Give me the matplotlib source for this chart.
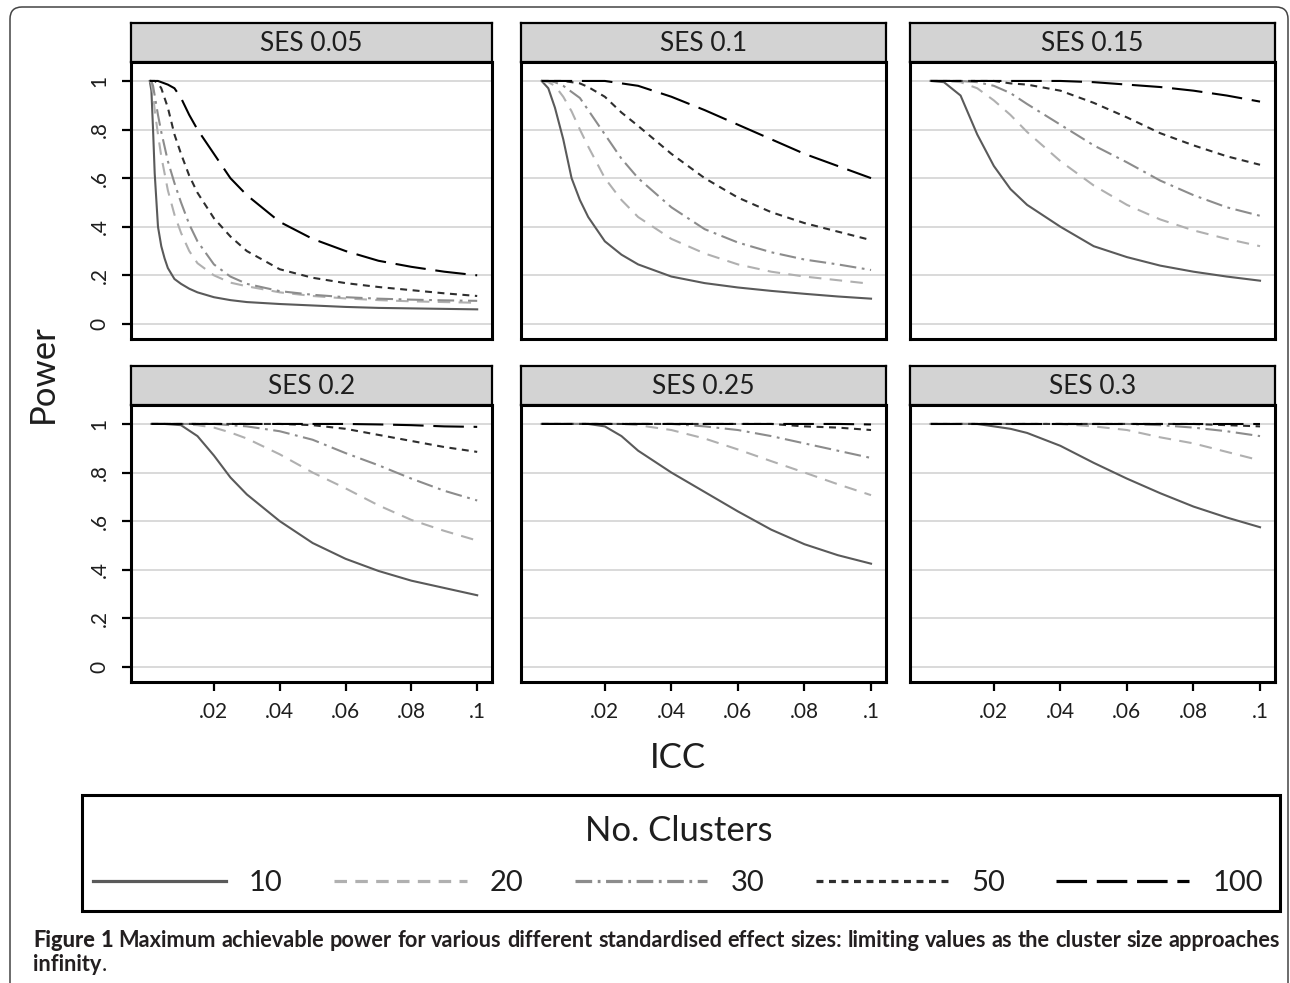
import matplotlib
matplotlib.use("Agg")
import matplotlib.pyplot as plt
from matplotlib.patches import Rectangle, FancyBboxPatch
from matplotlib.lines import Line2D

plt.rcParams["font.family"] = ["Lato", "DejaVu Sans"]
plt.rcParams["lines.scale_dashes"] = False

# ---- data ----
panel_titles = ["SES 0.05", "SES 0.1", "SES 0.15", "SES 0.2", "SES 0.25", "SES 0.3"]
clusters = [10, 20, 30, 50, 100]

icc_05 = [0.0005, 0.001, 0.0015, 0.002, 0.003, 0.004, 0.005, 0.006, 0.008, 0.01, 0.0125,
          0.015, 0.02, 0.025, 0.03, 0.04, 0.05, 0.06, 0.07, 0.08, 0.09, 0.1]
pw_005 = [
    [1.0, 0.96, 0.80, 0.62, 0.40, 0.32, 0.27, 0.23, 0.185, 0.165, 0.145, 0.13, 0.11, 0.098, 0.09, 0.082, 0.076, 0.07, 0.066, 0.064, 0.062, 0.06],
    [1.0, 0.99, 0.95, 0.88, 0.78, 0.69, 0.62, 0.55, 0.45, 0.375, 0.30, 0.25, 0.20, 0.17, 0.155, 0.13, 0.115, 0.105, 0.098, 0.093, 0.09, 0.087],
    [1.0, 1.0, 0.98, 0.94, 0.86, 0.79, 0.73, 0.67, 0.58, 0.50, 0.41, 0.34, 0.245, 0.195, 0.165, 0.135, 0.12, 0.11, 0.104, 0.10, 0.097, 0.095],
    [1.0, 1.0, 1.0, 1.0, 0.99, 0.97, 0.93, 0.89, 0.78, 0.70, 0.61, 0.54, 0.435, 0.36, 0.30, 0.225, 0.19, 0.168, 0.152, 0.139, 0.126, 0.115],
    [1.0, 1.0, 1.0, 1.0, 1.0, 0.995, 0.99, 0.985, 0.97, 0.93, 0.86, 0.80, 0.70, 0.60, 0.53, 0.42, 0.35, 0.30, 0.26, 0.235, 0.215, 0.20],
]

icc_10 = [0.001, 0.003, 0.005, 0.0075, 0.01, 0.0125, 0.015, 0.02, 0.025, 0.03, 0.04,
          0.05, 0.06, 0.07, 0.08, 0.09, 0.1]
pw_010 = [
    [1.0, 0.97, 0.89, 0.76, 0.60, 0.51, 0.44, 0.34, 0.285, 0.245, 0.195, 0.168, 0.15, 0.136, 0.124, 0.113, 0.104],
    [1.0, 0.995, 0.98, 0.935, 0.875, 0.80, 0.73, 0.60, 0.51, 0.44, 0.35, 0.29, 0.245, 0.215, 0.195, 0.18, 0.165],
    [1.0, 1.0, 0.995, 0.98, 0.955, 0.93, 0.88, 0.78, 0.68, 0.60, 0.48, 0.39, 0.335, 0.295, 0.265, 0.245, 0.222],
    [1.0, 1.0, 1.0, 1.0, 0.995, 0.99, 0.975, 0.935, 0.87, 0.815, 0.70, 0.60, 0.52, 0.46, 0.415, 0.38, 0.345],
    [1.0, 1.0, 1.0, 1.0, 1.0, 1.0, 1.0, 1.0, 0.99, 0.98, 0.935, 0.88, 0.82, 0.76, 0.70, 0.65, 0.60],
]

icc = [0.001, 0.005, 0.01, 0.015, 0.02, 0.025, 0.03, 0.04, 0.05, 0.06, 0.07, 0.08, 0.09, 0.1]
pw_015 = [
    [1.0, 0.995, 0.94, 0.78, 0.65, 0.555, 0.49, 0.40, 0.32, 0.275, 0.24, 0.215, 0.195, 0.178],
    [1.0, 1.0, 0.995, 0.97, 0.92, 0.86, 0.79, 0.67, 0.57, 0.49, 0.43, 0.385, 0.35, 0.32],
    [1.0, 1.0, 1.0, 0.995, 0.98, 0.95, 0.905, 0.82, 0.735, 0.665, 0.59, 0.53, 0.48, 0.445],
    [1.0, 1.0, 1.0, 1.0, 1.0, 0.99, 0.985, 0.96, 0.91, 0.85, 0.785, 0.735, 0.69, 0.655],
    [1.0, 1.0, 1.0, 1.0, 1.0, 1.0, 1.0, 1.0, 0.995, 0.985, 0.975, 0.96, 0.94, 0.915],
]
pw_020 = [
    [1.0, 1.0, 0.995, 0.95, 0.87, 0.78, 0.71, 0.60, 0.51, 0.445, 0.395, 0.355, 0.325, 0.295],
    [1.0, 1.0, 1.0, 0.995, 0.985, 0.965, 0.94, 0.875, 0.80, 0.735, 0.665, 0.605, 0.56, 0.52],
    [1.0, 1.0, 1.0, 1.0, 1.0, 0.995, 0.99, 0.97, 0.935, 0.88, 0.83, 0.775, 0.725, 0.685],
    [1.0, 1.0, 1.0, 1.0, 1.0, 1.0, 1.0, 1.0, 0.995, 0.98, 0.955, 0.93, 0.905, 0.885],
    [1.0, 1.0, 1.0, 1.0, 1.0, 1.0, 1.0, 1.0, 1.0, 1.0, 0.998, 0.995, 0.99, 0.988],
]
pw_025 = [
    [1.0, 1.0, 1.0, 1.0, 0.99, 0.95, 0.89, 0.80, 0.72, 0.64, 0.565, 0.505, 0.46, 0.425],
    [1.0, 1.0, 1.0, 1.0, 1.0, 1.0, 0.995, 0.975, 0.94, 0.895, 0.847, 0.80, 0.752, 0.707],
    [1.0, 1.0, 1.0, 1.0, 1.0, 1.0, 1.0, 1.0, 0.99, 0.975, 0.95, 0.92, 0.89, 0.86],
    [1.0, 1.0, 1.0, 1.0, 1.0, 1.0, 1.0, 1.0, 1.0, 1.0, 1.0, 0.99, 0.985, 0.975],
    [1.0, 1.0, 1.0, 1.0, 1.0, 1.0, 1.0, 1.0, 1.0, 1.0, 1.0, 1.0, 1.0, 0.998],
]
pw_030 = [
    [1.0, 1.0, 1.0, 1.0, 0.99, 0.98, 0.963, 0.91, 0.84, 0.775, 0.715, 0.66, 0.615, 0.575],
    [1.0, 1.0, 1.0, 1.0, 1.0, 1.0, 1.0, 1.0, 0.99, 0.975, 0.945, 0.92, 0.885, 0.85],
    [1.0, 1.0, 1.0, 1.0, 1.0, 1.0, 1.0, 1.0, 1.0, 1.0, 0.995, 0.985, 0.97, 0.95],
    [1.0, 1.0, 1.0, 1.0, 1.0, 1.0, 1.0, 1.0, 1.0, 1.0, 1.0, 1.0, 0.995, 0.99],
    [1.0, 1.0, 1.0, 1.0, 1.0, 1.0, 1.0, 1.0, 1.0, 1.0, 1.0, 1.0, 1.0, 1.0],
]

x_ticks = [0.02, 0.04, 0.06, 0.08, 0.1]
x_ticklabels = [".02", ".04", ".06", ".08", ".1"]
y_ticks = [0, 0.2, 0.4, 0.6, 0.8, 1.0]
y_ticklabels = ["0", ".2", ".4", ".6", ".8", "1"]

caption_bold = "Figure 1"
caption_line1 = ("Maximum achievable power for various different standardised effect sizes: "
                 "limiting values as the cluster size approaches")
caption_line2 = "infinity"

# ---- styles ----
line_styles = [
    dict(color="#5a5a5a", linestyle="-"),
    dict(color="#b0b0b0", dashes=(9, 6)),
    dict(color="#8c8c8c", dashes=(12, 4, 2, 4)),
    dict(color="#2e2e2e", dashes=(5, 4)),
    dict(color="#000000", dashes=(22, 7)),
]

W, H = 1290, 983


def px_box(l, t, r, b):
    return [l / W, 1 - b / H, (r - l) / W, (b - t) / H]


fig = plt.figure(figsize=(W / 100, H / 100), dpi=100)

cols = [(131, 492), (521, 886), (910, 1275)]
rows = [(62, 339), (405, 682)]
strips = [(23, 62), (366, 405)]

panels = [(icc_05, pw_005), (icc_10, pw_010), (icc, pw_015),
          (icc, pw_020), (icc, pw_025), (icc, pw_030)]

txt_col = "#1e1e1e"

for i, (xs, series) in enumerate(panels):
    r, c = divmod(i, 3)
    ax = fig.add_axes(px_box(cols[c][0], rows[r][0], cols[c][1], rows[r][1]))
    for ys, st in zip(series, line_styles):
        ax.plot(xs, ys, lw=1.5, **st)
    ax.set_xlim(-0.0052, 0.1045)
    ax.set_ylim(-0.062, 1.078)
    ax.set_yticks(y_ticks)
    ax.set_xticks(x_ticks)
    ax.grid(axis="y", color="#d9d9d9", lw=1.4)
    ax.set_axisbelow(True)
    for s in ax.spines.values():
        s.set_linewidth(2.2)
        s.set_color("black")
    ax.tick_params(direction="out", length=6.5, width=1.6, color="black",
                   labelsize=15, labelcolor=txt_col)
    if c == 0:
        ax.set_yticklabels(y_ticklabels, rotation=90, va="center")
        ax.tick_params(axis="y", pad=9)
    else:
        ax.tick_params(axis="y", left=False, labelleft=False)
    if r == 1:
        ax.set_xticklabels(x_ticklabels)
        ax.tick_params(axis="x", pad=8)
    else:
        ax.tick_params(axis="x", bottom=False, labelbottom=False)

    sax = fig.add_axes(px_box(cols[c][0], strips[r][0], cols[c][1], strips[r][1]))
    sax.set_facecolor("#d3d3d3")
    sax.set_xticks([])
    sax.set_yticks([])
    for s in sax.spines.values():
        s.set_linewidth(1.6)
    sax.text(0.5, 0.47, panel_titles[i], ha="center", va="center",
             fontsize=19, color=txt_col, transform=sax.transAxes)

fig.text(43 / W, 1 - 374 / H, "Power", rotation=90, ha="center", va="center",
         fontsize=25, color=txt_col)
fig.text(678 / W, 1 - 758 / H, "ICC", ha="center", va="center", fontsize=25, color=txt_col)

# legend box
fig.patches.append(Rectangle((82 / W, 1 - 911 / H), (1280 - 82) / W, (911 - 795) / H,
                             transform=fig.transFigure, fill=False, lw=2.2, ec="black"))
fig.text(679 / W, 1 - 831 / H, "No. Clusters", ha="center", va="center",
         fontsize=25, color=txt_col)
handles = [Line2D([], [], lw=2.3, **st) for st in line_styles]
fig.legend(handles, [str(n) for n in clusters], loc="center left",
           bbox_to_anchor=(93 / W, 1 - 883 / H), ncol=5, frameon=False,
           fontsize=21, handlelength=4.55, handletextpad=0.8, columnspacing=1.75,
           borderpad=0, borderaxespad=0, labelcolor=txt_col)

# outer rounded frame
fig.patches.append(FancyBboxPatch((0.10, -0.3), 12.78, 10.06,
                                  boxstyle="round,pad=0,rounding_size=0.12",
                                  transform=fig.dpi_scale_trans, fill=False,
                                  lw=1.1, ec="#444444"))

# caption: first line justified between x=33 and x=1280 px
renderer = fig.canvas.get_renderer()
words = [(w, "black") for w in caption_bold.split()] + [(w, "bold") for w in caption_line1.split()]
base = 13
probe = [fig.text(0, 0, w, weight=wt, fontsize=base, family=["Lato", "DejaVu Sans"]) for w, wt in words]
total = sum(t.get_window_extent(renderer).width for t in probe)
for t in probe:
    t.remove()
cap_size = base * (1247 - 5.5 * (len(words) - 1)) / total
cap_font = dict(family=["Lato", "DejaVu Sans"], fontsize=cap_size, color="#231f20")

items = []
total = 0
for w, wt in words:
    t = fig.text(0, 1 - 947 / H, w, ha="left", va="baseline", weight=wt, **cap_font)
    wd = t.get_window_extent(renderer).width
    items.append((t, wd))
    total += wd
gap = (1280 - 33 - total) / (len(items) - 1)
x = 33
for t, wd in items:
    t.set_x(x / W)
    x += wd + gap
t2 = fig.text(33 / W, 1 - 971 / H, caption_line2, ha="left", va="baseline", weight="bold", **cap_font)
w2 = t2.get_window_extent(renderer).width
fig.text((33 + w2) / W, 1 - 971 / H, ".", ha="left", va="baseline", weight="normal", **cap_font)

fig.savefig("out.png", dpi=100)
